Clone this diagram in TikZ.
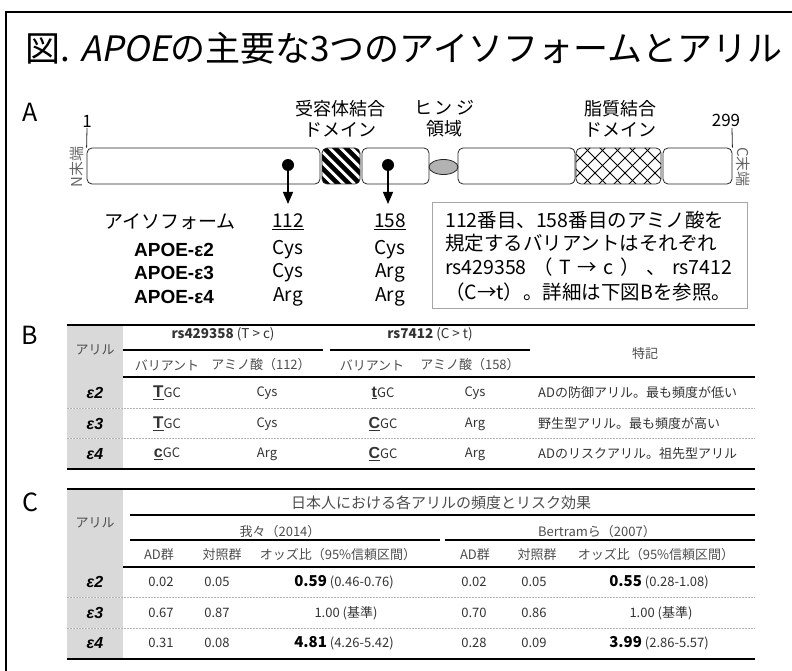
\documentclass[tikz,border=0pt]{standalone}
\usepackage{fontspec}
\usepackage{graphicx}
\setmainfont{Noto Sans CJK JP}
\newfontfamily\lsans{Liberation Sans}
\newfontfamily\titleit[FakeSlant=0.2]{Noto Sans CJK JP}
\usetikzlibrary{arrows.meta,shapes.geometric}
\XeTeXlinebreaklocale "ja"
\XeTeXlinebreakskip=0pt plus 3pt
\begin{document}
\begin{tikzpicture}[x=1pt,y=-1pt,
  seg/.style={draw=black!85, line width=0.8pt, rounded corners=5pt, minimum height=36pt, inner sep=0},
  toplbl/.style={font=\fontsize{18}{21}\selectfont, align=center, inner sep=0},
  atext/.style={font=\fontsize{19}{22}\selectfont, inner sep=0},
  boxtext/.style={font=\fontsize{19.5}{22}\selectfont, inner sep=0, anchor=west},
  apoe/.style={font=\lsans\bfseries\fontsize{19}{22}\selectfont, inner sep=0},
  endlbl/.style={font=\fontsize{15}{17}\selectfont, text=black!60, inner sep=0},
  seclbl/.style={font=\fontsize{25}{28}\selectfont, inner sep=0},
  tbtext/.style={font=\fontsize{13}{16}\selectfont, text=black!80, inner sep=0},
  tbhead/.style={font=\fontsize{13}{16}\selectfont, text=black!70, inner sep=0},
  eps/.style={font=\lsans\bfseries\itshape\fontsize{16}{18}\selectfont, inner sep=0},
  hrule/.style={line width=2pt},
  seprule/.style={draw=black!30, dash pattern=on 2pt off 1pt, line width=0.7pt},
  graycol/.style={fill=black!15},
  pindot/.style={circle, fill=black, inner sep=0, minimum size=12pt},
  pinarrow/.style={line width=1.2pt, -{Triangle[width=10pt,length=12pt]}}
]
\useasboundingbox (0,0) rectangle (792,671);
\draw[line width=1.2pt] (6,671) -- (6,12) -- (792,12);

% title
\node[anchor=west, font=\fontsize{35}{40}\selectfont, inner sep=0] (title) at (25,48)
  {図. {\titleit APOE}の主要な3つのアイソフォームとアリル};

% section labels
\node[seclbl] (secA) at (30,112) {A};
\node[seclbl] (secB) at (30,335) {B};
\node[seclbl] (secC) at (30,502) {C};

% ---------- A: protein bar ----------
\begin{scope}
  \clip[rounded corners=5pt] (322,148) rectangle (360,184);
  \foreach \k in {0,...,9} \draw[line width=4.6pt] (272+\k*11,140) -- ++(60,60);
\end{scope}
\begin{scope}
  \clip[rounded corners=5pt] (576,148) rectangle (661,184);
  \foreach \k in {0,...,9} {
    \draw[line width=0.9pt] (532+\k*15,140) -- ++(60,60);
    \draw[line width=0.9pt] (568+\k*15,140) -- ++(-60,60);}
\end{scope}

\node[seg, minimum width=233pt] (s1) at (203.5,166) {};
\node[seg, minimum width=38pt] (s2) at (341,166) {};
\node[seg, minimum width=67pt] (s3) at (395.5,166) {};
\node[draw=black!85, fill=black!30, ellipse, line width=0.8pt, minimum width=29pt, minimum height=15pt, inner sep=0] (hinge) at (443.5,167) {};
\node[seg, minimum width=117pt] (s4) at (516.5,166) {};
\node[seg, minimum width=85pt] (s5) at (618.5,166) {};
\node[seg, minimum width=69pt] (s6) at (697.5,166) {};

\node[font=\fontsize{17}{19}\selectfont, inner sep=0] (n1) at (87,121) {1};
\node[font=\fontsize{17}{19}\selectfont, inner sep=0] (n299) at (726,120) {299};
\coordinate (l1) at (87,128);
\coordinate (l299) at (732,128);
\draw[line width=0.8pt, black!85] (l1) -- (s1.north west);
\draw[line width=0.8pt, black!85] (l299) -- (s6.north east);

\node[endlbl, rotate=90] (nend) at (77,167) {N末端};
\node[endlbl, rotate=-90] (cend) at (743,167) {C末端};

\node[toplbl] (rbd) at (340,119) {受容体結合\\ドメイン};
\node[toplbl] (hng) at (444,119) {ヒ\,ン\,ジ\\領域};
\node[toplbl] (lbd) at (620,119) {脂質結合\\ドメイン};

\node[pindot] (p1) at (288,165) {};
\node[pindot] (p2) at (388,165) {};
\coordinate (a1) at (288,204);
\coordinate (a2) at (388,204);
\draw[pinarrow] (p1.center) -- (a1);
\draw[pinarrow] (p2.center) -- (a2);

% isoform table
\node[atext] (iso) at (170,222) {アイソフォーム};
\node[atext] (c112) at (288,222) {\underline{112}};
\node[atext] (c158) at (390,222) {\underline{158}};
\node[apoe] (e2) at (174,250) {APOE-ε2};
\node[apoe] (e3) at (174,273) {APOE-ε3};
\node[apoe] (e4) at (174,297) {APOE-ε4};
\node[atext] (e2a) at (288,250) {Cys};
\node[atext] (e2b) at (390,250) {Cys};
\node[atext] (e3a) at (288,273) {Cys};
\node[atext] (e3b) at (390,273) {Arg};
\node[atext] (e4a) at (288,297) {Arg};
\node[atext] (e4b) at (390,297) {Arg};

% note box
\node[draw=black!35, line width=0.8pt, minimum width=315pt, minimum height=106pt, inner sep=0] (box) at (589.5,255) {};
\node[boxtext] (bt1) at (445,220) {\makebox[287pt][s]{112番目、158番目のアミノ酸を}};
\node[boxtext] (bt2) at (445,243) {\makebox[287pt][s]{規定するバリアントはそれぞれ}};
\node[boxtext] (bt3) at (445,267) {\makebox[287pt][s]{rs429358 （ T → c ） 、 rs7412}};
\node[boxtext] (bt4) at (445,292) {\makebox[287pt][s]{（C→t）。詳細は下図Bを参照。}};

% ---------- B ----------
\fill[graycol] (67,325) rectangle (123,469);
\foreach \yy in {408,438} {
  \draw[white, line width=0.8pt] (67,\yy) -- (755,\yy);
  \draw[seprule] (67,\yy) -- (755,\yy);}
\draw[hrule] (67,325) -- (755,325);
\draw[hrule] (123,350) -- (323,350);
\draw[hrule] (330,350) -- (530,350);
\draw[hrule] (123,377) -- (755,377);
\draw[hrule] (67,469) -- (755,469);

\node[tbhead] (bh1) at (95,350) {アリル};
\node[tbtext, font=\fontsize{13.5}{16}\selectfont] (bh2) at (223,334) {{\bfseries rs429358} (T > c)};
\node[tbtext, font=\fontsize{13.5}{16}\selectfont] (bh3) at (430,334) {{\bfseries rs7412} (C > t)};
\node[tbhead] (bh4) at (645,354) {特記};
\node[tbhead] (bh5) at (167,365) {バリアント};
\node[tbhead] (bh6) at (261,365) {アミノ酸（112）};
\node[tbhead] (bh7) at (372,365) {バリアント};
\node[tbhead] (bh8) at (470,365) {アミノ酸（158）};

\node[eps] (be2) at (95,393) {ε2};
\node[eps] (be3) at (95,424) {ε3};
\node[eps] (be4) at (95,454) {ε4};

\node[tbtext] (bv12) at (167,393) {{\lsans\bfseries\fontsize{17}{18}\selectfont\underline{T}}GC};
\node[tbtext] (bv13) at (167,424) {{\lsans\bfseries\fontsize{17}{18}\selectfont\underline{T}}GC};
\node[tbtext] (bv14) at (167,454) {{\lsans\bfseries\fontsize{16}{18}\selectfont\underline{c}}GC};
\node[tbtext] (ba12) at (267,393) {Cys};
\node[tbtext] (ba13) at (267,424) {Cys};
\node[tbtext] (ba14) at (267,454) {Arg};
\node[tbtext] (bv22) at (383,393) {{\lsans\bfseries\fontsize{16}{18}\selectfont\underline{t}}GC};
\node[tbtext] (bv23) at (383,424) {{\lsans\bfseries\fontsize{16}{18}\selectfont\underline{C}}GC};
\node[tbtext] (bv24) at (383,454) {{\lsans\bfseries\fontsize{16}{18}\selectfont\underline{C}}GC};
\node[tbtext] (ba22) at (475,393) {Cys};
\node[tbtext] (ba23) at (475,424) {Arg};
\node[tbtext] (ba24) at (475,454) {Arg};
\node[tbtext, anchor=west] (bn2) at (538,393) {ADの防御アリル。最も頻度が低い};
\node[tbtext, anchor=west] (bn3) at (538,424) {野生型アリル。最も頻度が高い};
\node[tbtext, anchor=west] (bn4) at (538,454) {ADのリスクアリル。祖先型アリル};

% ---------- C ----------
\fill[graycol] (67,489) rectangle (123,659);
\foreach \yy in {597,628} {
  \draw[white, line width=0.8pt] (67,\yy) -- (755,\yy);
  \draw[seprule] (67,\yy) -- (755,\yy);}
\draw[hrule] (67,489) -- (755,489);
\draw[hrule] (130,515) -- (755,515);
\draw[hrule] (130,540) -- (440,540);
\draw[hrule] (445,540) -- (755,540);
\draw[hrule] (123,567) -- (755,567);
\draw[hrule] (67,659) -- (755,659);

\node[tbhead] (ch0) at (95,523) {アリル};
\node[tbhead, font=\fontsize{15}{17}\selectfont] (ch1) at (441,503) {日本人における各アリルの頻度とリスク効果};
\node[tbhead] (ch2) at (280,532) {我々（2014）};
\node[tbhead] (ch3) at (597,532) {Bertramら（2007）};
\node[tbhead] (ch4) at (159,555) {AD群};
\node[tbhead] (ch5) at (222,555) {対照群};
\node[tbhead] (ch6) at (338,555) {オッズ比（95\%信頼区間）};
\node[tbhead] (ch7) at (475,555) {AD群};
\node[tbhead] (ch8) at (537,555) {対照群};
\node[tbhead] (ch9) at (656,555) {オッズ比（95\%信頼区間）};

\node[eps] (ce2) at (95,582) {ε2};
\node[eps] (ce3) at (95,613) {ε3};
\node[eps] (ce4) at (95,643) {ε4};

\node[tbtext] (c21) at (161,582) {0.02};
\node[tbtext] (c22) at (217,582) {0.05};
\node[tbtext] (c23) at (344,582) {{\color{black}\bfseries\fontsize{15}{17}\selectfont 0.59} (0.46-0.76)};
\node[tbtext] (c24) at (474,582) {0.02};
\node[tbtext] (c25) at (534,582) {0.05};
\node[tbtext] (c26) at (659,582) {{\color{black}\bfseries\fontsize{15}{17}\selectfont 0.55} (0.28-1.08)};

\node[tbtext] (c31) at (161,613) {0.67};
\node[tbtext] (c32) at (217,613) {0.87};
\node[tbtext] (c33) at (346,613) {1.00 (基準)};
\node[tbtext] (c34) at (474,613) {0.70};
\node[tbtext] (c35) at (534,613) {0.86};
\node[tbtext] (c36) at (661,613) {1.00 (基準)};

\node[tbtext] (c41) at (161,643) {0.31};
\node[tbtext] (c42) at (217,643) {0.08};
\node[tbtext] (c43) at (344,643) {{\color{black}\bfseries\fontsize{15}{17}\selectfont 4.81} (4.26-5.42)};
\node[tbtext] (c44) at (474,643) {0.28};
\node[tbtext] (c45) at (534,643) {0.09};
\node[tbtext] (c46) at (659,643) {{\color{black}\bfseries\fontsize{15}{17}\selectfont 3.99} (2.86-5.57)};
\end{tikzpicture}
\end{document}
